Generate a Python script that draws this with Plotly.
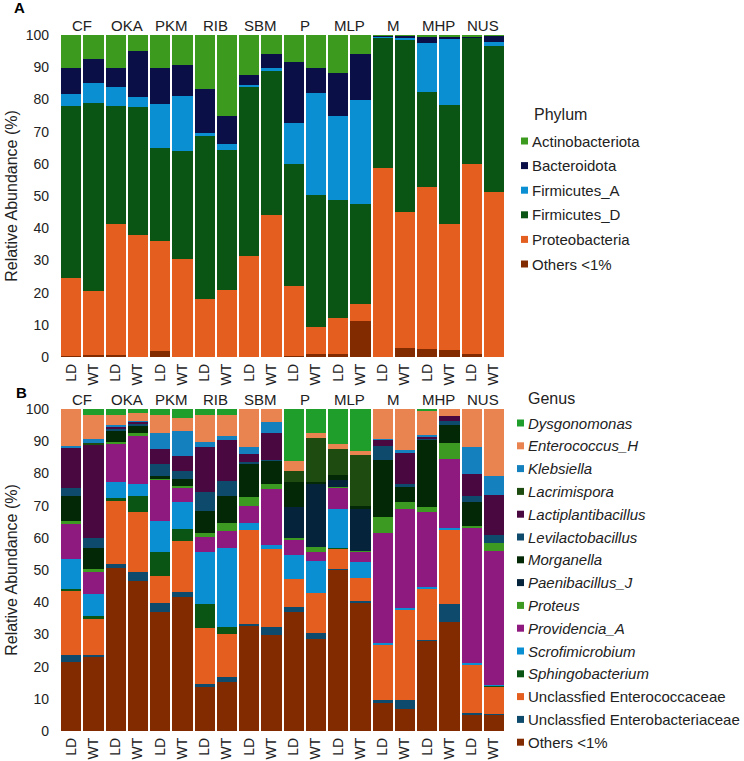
import plotly.graph_objects as go

groups = ["CF", "OKA", "PKM", "RIB", "SBM", "P", "MLP", "M", "MHP", "NUS"]
diets = ["LD", "WT"]
tick_labels = [d for g in groups for d in diets]

# Phylum (panel A), one value per bar: CF LD, CF WT, OKA LD, ...
phylum_names = ["Others <1%", "Proteobacteria", "Firmicutes_D", "Firmicutes_A",
                "Bacteroidota", "Actinobacteriota"]
phylum_colors = ["#822b00", "#e35e1f", "#0a5514", "#0a8fd2", "#0a0f48", "#3c9a1e"]
others_a = [0.2, 0.5, 0.5, 0.1, 1.9, 0.1, 0.1, 0.1, 0.1, 0.1,
            0.2, 0.8, 0.8, 11.1, 0.1, 2.9, 2.5, 2.3, 0.8, 0.1]
proteobacteria = [24.3, 19.9, 40.9, 37.7, 34.1, 30.2, 18.0, 20.6, 31.2, 43.9,
                  21.8, 8.5, 11.3, 5.5, 58.6, 42.1, 50.3, 38.9, 59.0, 51.0]
firmicutes_d = [53.5, 58.5, 36.6, 39.7, 29.0, 33.6, 50.4, 43.5, 52.6, 44.8,
                38.0, 41.1, 36.6, 31.0, 40.4, 53.7, 29.4, 37.0, 39.3, 45.5]
firmicutes_a = [3.6, 6.2, 6.0, 3.2, 13.7, 17.1, 1.1, 1.8, 0.5, 1.0,
                12.7, 31.6, 26.0, 32.1, 0.3, 0.4, 15.3, 20.6, 0.2, 1.1]
bacteroidota = [8.1, 7.6, 5.9, 14.2, 11.0, 9.7, 13.5, 8.7, 3.3, 4.2,
                18.9, 7.7, 13.4, 14.5, 0.3, 0.6, 2.1, 0.8, 0.3, 2.0]
actinobacteriota = [10.3, 7.3, 10.1, 5.1, 10.3, 9.3, 16.9, 25.3, 12.3, 6.0,
                    8.4, 10.3, 11.9, 5.8, 0.3, 0.3, 0.4, 0.4, 0.4, 0.3]
phylum_values = [others_a, proteobacteria, firmicutes_d, firmicutes_a,
                 bacteroidota, actinobacteriota]

# Genus (panel B)
genus_names = ["Others <1%", "Unclassfied Enterobacteriaceae", "Unclassfied Enterococcaceae",
               "<i>Sphingobacterium</i>", "<i>Scrofimicrobium</i>", "<i>Providencia_A</i>",
               "<i>Proteus</i>", "<i>Paenibacillus_J</i>", "<i>Morganella</i>",
               "<i>Levilactobacillus</i>", "<i>Lactiplantibacillus</i>", "<i>Lacrimispora</i>",
               "<i>Klebsiella</i>", "<i>Enterococcus_H</i>", "<i>Dysgonomonas</i>"]
genus_colors = ["#822b00", "#0e4a6c", "#e35e1f", "#0a5514", "#0a8fd2", "#8e1a80",
                "#3c9a22", "#05233a", "#032806", "#0e4a6c", "#4a0840", "#1e4c10",
                "#1480bd", "#e9834f", "#1f9e2c"]
others_b = [21.4, 23.1, 50.7, 46.7, 37.1, 41.7, 13.6, 15.2, 32.7, 29.7,
            37.0, 28.7, 50.1, 39.9, 8.6, 6.7, 28.1, 33.7, 5.2, 5.0]
unc_enterobact = [2.2, 0.4, 1.1, 2.7, 2.8, 1.5, 0.9, 1.5, 0.5, 2.5,
                  1.4, 1.8, 0.2, 0.4, 1.0, 2.9, 0.2, 5.7, 0.3, 0.2]
unc_enterococ = [20.0, 11.3, 19.7, 18.6, 8.3, 15.8, 17.5, 13.4, 29.2, 24.2,
                 8.7, 12.4, 6.3, 7.1, 17.4, 28.2, 16.0, 23.2, 15.2, 8.6]
sphingobacterium = [0.4, 0.9, 0.9, 4.9, 7.3, 3.6, 7.3, 2.3, 0, 0,
                    0, 0, 0.3, 0, 0, 0, 0, 0, 0, 0.4]
scrofimicrobium = [9.5, 6.7, 4.8, 3.8, 9.7, 8.6, 16.4, 24.5, 2.3, 1.3,
                   7.5, 9.9, 12.0, 5.0, 0.3, 0.5, 0.3, 0.3, 0.3, 0.2]
providencia = [10.7, 7.1, 11.8, 15.1, 13.0, 4.5, 4.7, 5.2, 5.3, 17.5,
               4.9, 2.7, 6.8, 3.3, 34.3, 30.6, 23.5, 21.5, 41.9, 41.6]
proteus = [0.9, 0.8, 0.8, 0.6, 0.2, 0.5, 1.2, 2.6, 2.6, 1.4,
           0.5, 1.5, 0.2, 0.3, 5.0, 2.3, 1.6, 5.1, 0.9, 2.5]
paenibacillus = [0, 0, 0, 0, 0, 0, 0, 0, 0, 0,
                 9.5, 19.7, 2.0, 12.9, 0, 0, 0, 0, 0, 0]
morganella = [7.9, 6.6, 3.5, 2.6, 0.8, 2.1, 6.8, 8.3, 10.5, 7.3,
              7.8, 0.7, 1.6, 1.0, 17.6, 4.5, 20.9, 5.5, 7.2, 0]
levilactobacillus = [2.4, 2.9, 0.5, 0.5, 3.6, 2.5, 5.9, 4.7, 0.5, 0.3,
                     0, 0, 0, 0, 4.3, 0.9, 0.2, 1.3, 2.1, 2.4]
lactiplantibacillus = [12.5, 29.2, 0.7, 0.5, 4.7, 4.7, 13.8, 12.7, 2.4, 8.2,
                       0, 0, 0, 0, 1.9, 9.6, 0.8, 1.6, 6.7, 12.4]
lacrimispora = [0, 0.5, 0, 0, 0, 0, 0, 0, 0, 0,
                3.5, 13.5, 8.1, 15.8, 0, 0, 0, 0, 0, 0]
klebsiella = [0.6, 1.1, 0.4, 0.2, 4.9, 7.8, 1.5, 1.2, 2.3, 3.5,
              0, 0, 0, 0, 0.4, 1.1, 0.2, 0, 8.5, 5.9]
enterococcus_h = [11.5, 7.5, 3.1, 2.5, 5.7, 3.9, 8.4, 6.5, 11.7, 4.1,
                  2.9, 1.5, 1.4, 1.3, 9.2, 12.7, 7.6, 2.1, 11.7, 20.8]
dysgonomonas = [0, 1.9, 2.0, 1.3, 1.9, 2.8, 2.0, 1.9, 0, 0,
                16.3, 7.6, 11.0, 13.0, 0, 0, 0.6, 0, 0, 0]
genus_values = [others_b, unc_enterobact, unc_enterococ, sphingobacterium,
                scrofimicrobium, providencia, proteus, paenibacillus, morganella,
                levilactobacillus, lactiplantibacillus, lacrimispora, klebsiella,
                enterococcus_h, dysgonomonas]

FONT = "Liberation Sans, Arial, sans-serif"
W, H = 744, 761
xs = list(range(len(tick_labels)))

fig = go.Figure()

for name, color, vals in zip(phylum_names, phylum_colors, phylum_values):
    fig.add_trace(go.Bar(x=xs, y=vals, name=name, marker_color=color,
                         marker_line_width=0, xaxis="x", yaxis="y"))
for name, color, vals in zip(genus_names, genus_colors, genus_values):
    fig.add_trace(go.Bar(x=xs, y=vals, name=name, marker_color=color,
                         marker_line_width=0, xaxis="x2", yaxis="y2"))

xaxis_common = dict(tickmode="array", tickvals=xs, ticktext=tick_labels,
                    tickangle=-90, range=[-0.5, 19.5], showline=False,
                    showgrid=False, zeroline=False, ticks="", automargin=False,
                    ticklabelstandoff=3,
                    tickfont=dict(size=14, color="#222"))
yaxis_common = dict(range=[0, 100], dtick=10, showgrid=False, zeroline=False,
                    showline=False, ticks="", ticklabelstandoff=10, automargin=False,
                    tickfont=dict(size=14, color="#222"),
                    title=dict(text="Relative Abundance (%)", font=dict(size=16, color="#222"),
                               standoff=4))

annotations = []
shapes = []
for i, g in enumerate(groups):
    for xr, yr in [("x", "y"), ("x2", "y2")]:
        annotations.append(dict(x=2 * i + 0.5, y=100, xref=xr, yref=yr,
                                text=g, xanchor="center", yanchor="bottom",
                                yshift=-1, font=dict(size=15, color="#222")))
annotations += [
    dict(x=19 / W, y=1 - 8 / H, text="<b>A</b>", font=dict(size=15, color="#000")),
    dict(x=21 / W, y=1 - 392 / H, text="<b>B</b>", font=dict(size=15, color="#000")),
    dict(x=532 / W, y=1 - 115 / H, text="Phylum", xanchor="left",
         font=dict(size=16, color="#222")),
    dict(x=526 / W, y=1 - 399 / H, text="Genus", xanchor="left",
         font=dict(size=16, color="#222")),
]


# legends drawn by hand (top entry first) so they sit exactly where the original has them
def hand_legend(names, colors, y0, step, sq_x, txt_x):
    for k, (name, color) in enumerate(zip(names[::-1], colors[::-1])):
        yc = y0 + step * k
        shapes.append(dict(type="rect", xref="paper", yref="paper",
                           x0=sq_x / W, x1=(sq_x + 7) / W,
                           y0=1 - (yc + 3.5) / H, y1=1 - (yc - 3.5) / H,
                           fillcolor=color, line_width=0))
        annotations.append(dict(x=txt_x / W, y=1 - yc / H, text=name, xanchor="left",
                                font=dict(size=15, color="#222")))


hand_legend(phylum_names, phylum_colors, 141, 24.6, 521, 530)
hand_legend(genus_names, genus_colors, 423, 22.8, 517, 526)

for a in annotations:
    if "xref" not in a:
        a.update(xref="paper", yref="paper")
    a.setdefault("xanchor", "center")
    a.setdefault("yanchor", "middle")
    a["showarrow"] = False

fig.update_layout(
    width=W, height=H,
    margin=dict(l=0, r=0, t=0, b=0),
    barmode="stack", bargap=0.09,
    plot_bgcolor="white", paper_bgcolor="white",
    font=dict(family=FONT, color="#222"),
    xaxis=dict(domain=[60 / W, 505 / W], anchor="y", **xaxis_common),
    yaxis=dict(domain=[1 - 357 / H, 1 - 35 / H], anchor="x", **yaxis_common),
    xaxis2=dict(domain=[60 / W, 505 / W], anchor="y2", **xaxis_common),
    yaxis2=dict(domain=[1 - 731 / H, 1 - 409 / H], anchor="x2", **yaxis_common),
    annotations=annotations,
    shapes=shapes,
    showlegend=False,
)

# the page's default 8px body margin would push the figure off the window
fig.write_html("out.html", config={"displayModeBar": False},
               post_script="document.body.style.margin = '0';")
